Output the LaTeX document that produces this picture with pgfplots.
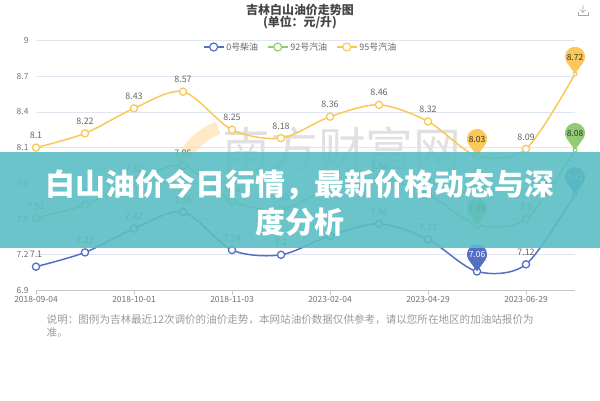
\documentclass[border=0pt]{standalone}
\usepackage{fontspec}
\setmainfont{Noto Sans CJK SC}
\usepackage{pgfplots}
\pgfplotsset{compat=1.18}
\usepackage{pgfplotstable}
\definecolor{cBlue}{HTML}{5470C6}
\definecolor{cGreen}{HTML}{91CC75}
\definecolor{cYellow}{HTML}{FAC858}
\definecolor{gridc}{HTML}{E0E6F1}
\definecolor{tickc}{HTML}{6E7079}
\definecolor{labc}{HTML}{666666}
\definecolor{titlec}{HTML}{464646}
\definecolor{notec}{HTML}{9A9A9A}
\definecolor{bannerc}{HTML}{5ABEC3}

\pgfdeclareplotmark{pin}{%
  \pgfpathmoveto{\pgfpointorigin}%
  \pgfpathlineto{\pgfpoint{-8.48bp}{11.7bp}}%
  \pgfpatharc{212}{-32}{10bp}%
  \pgfpathclose
  \pgfusepathqfill
}

\pgfplotstableread{
idx d0 d92 d95
0 7.10 7.51 8.10
1 7.22 7.62 8.22
2 7.42 7.82 8.43
3 7.56 7.95 8.57
4 7.24 7.65 8.25
5 7.20 7.58 8.18
6 7.36 7.76 8.36
7 7.46 7.84 8.46
8 7.33 7.71 8.32
9 7.06 7.45 8.03
10 7.12 7.50 8.09
11 7.71 8.08 8.72
}\oil

\begin{document}
\begin{tikzpicture}[x=1bp,y=1bp]
\useasboundingbox (0,0) rectangle (600,400);
% titles
\node[font=\bfseries\fontsize{12}{12}\selectfont, text=titlec] at (300,390.5) {吉林白山油价走势图};
\node[font=\bfseries\fontsize{12}{12}\selectfont, text=titlec] at (300,377.5) {(单位：元/升)};
% download icon
\draw[gray!70, line width=0.6bp] (578,388) -- (578,385) -- (588,385) -- (588,388);
\draw[gray!70, line width=0.6bp] (583,395) -- (583,387.5) (580,390.5) -- (583,387.5) -- (586,390.5);
% watermark
\draw[orange!80!yellow, opacity=0.22, line width=13bp] (218,272) arc[start angle=110, end angle=185, radius=62];
\node[font=\fontsize{48}{48}\selectfont, text=gray!45, opacity=0.55] at (342,251) {南方财富网};

\begin{axis}[
  at={(36bp,109.5bp)}, anchor=south west,
  scale only axis, width=539bp, height=250bp,
  xmin=0, xmax=11, ymin=6.9, ymax=9,
  axis x line*=bottom, axis y line*=left,
  x axis line style={draw=black!22, line width=0.8bp},
  y axis line style={draw=none},
  ytick={6.9,7.2,7.5,7.8,8.1,8.4,8.7,9},
  yticklabels={6.9,7.2,7.5,7.8,8.1,8.4,8.7,9},
  xtick={0,2,4,6,8,10},
  xticklabels={2018-09-04,2018-10-01,2018-11-03,2023-02-04,2023-04-29,2023-06-29},
  tick align=outside, major tick length=4bp,
  xtick style={draw=black!22, line width=0.8bp},
  ytick style={draw=none},
  ymajorgrids, grid style={draw=gridc, line width=0.8bp},
  ticklabel style={font=\fontsize{8.5}{8.5}\selectfont, text=tickc},
  xticklabel style={yshift=2bp},
  /pgf/number format/assume math mode=true,
  clip=false,
  legend style={at={(0.491,0.974)}, anchor=center, draw=none, fill=none,
    font=\fontsize{9}{9}\selectfont, text=labc,
    /tikz/every even column/.append style={column sep=7bp}},
  legend columns=-1,
  every node near coord/.append style={inner sep=0pt, anchor=south, yshift=8.5bp,
    font=\fontsize{9}{9}\selectfont, text=labc},
]
\addplot[cBlue, line width=1.5bp, smooth, tension=0.5, mark=none,
  legend image code/.code={\draw[cBlue, line width=1.2bp] (0bp,0bp) -- (20bp,0bp); \draw[cBlue, line width=1.2bp, fill=white] (10bp,0bp) circle (4bp);}]
  table[x=idx, y=d0]{\oil};
\addlegendentry{0号柴油}
\addplot[cGreen, line width=1.5bp, smooth, tension=0.5, mark=none,
  legend image code/.code={\draw[cGreen, line width=1.2bp] (0bp,0bp) -- (20bp,0bp); \draw[cGreen, line width=1.2bp, fill=white] (10bp,0bp) circle (4bp);}]
  table[x=idx, y=d92]{\oil};
\addlegendentry{92号汽油}
\addplot[cYellow, line width=1.5bp, smooth, tension=0.5, mark=none,
  legend image code/.code={\draw[cYellow, line width=1.2bp] (0bp,0bp) -- (20bp,0bp); \draw[cYellow, line width=1.2bp, fill=white] (10bp,0bp) circle (4bp);}]
  table[x=idx, y=d95]{\oil};
\addlegendentry{95号汽油}

% markers
\addplot[forget plot, only marks, mark=*, mark size=3.6bp, mark options={draw=cBlue, fill=white, line width=1.3bp}, skip coords between index={11}{12}] table[x=idx, y=d0]{\oil};
\addplot[forget plot, only marks, mark=*, mark size=3.6bp, mark options={draw=cGreen, fill=white, line width=1.3bp}, skip coords between index={11}{12}] table[x=idx, y=d92]{\oil};
\addplot[forget plot, only marks, mark=*, mark size=3.6bp, mark options={draw=cYellow, fill=white, line width=1.3bp}, skip coords between index={11}{12}] table[x=idx, y=d95]{\oil};
\addplot[forget plot, only marks, mark=*, mark size=2bp, mark options={draw=cBlue, fill=white, line width=1bp}, skip coords between index={0}{11}] table[x=idx, y=d0]{\oil};
\addplot[forget plot, only marks, mark=*, mark size=2bp, mark options={draw=cGreen, fill=white, line width=1bp}, skip coords between index={0}{11}] table[x=idx, y=d92]{\oil};
\addplot[forget plot, only marks, mark=*, mark size=2bp, mark options={draw=cYellow, fill=white, line width=1bp}, skip coords between index={0}{11}] table[x=idx, y=d95]{\oil};

% value labels
\addplot[forget plot, draw=none, mark=none, nodes near coords, point meta=y]
  coordinates {(0,7.1)(1,7.22)(2,7.42)(3,7.56)(4,7.24)(5,7.2)(6,7.36)(7,7.46)(8,7.33)(10,7.12)};
\addplot[forget plot, draw=none, mark=none, nodes near coords, point meta=y]
  coordinates {(0,7.51)(1,7.62)(2,7.82)(3,7.95)(4,7.65)(5,7.58)(6,7.76)(7,7.84)(8,7.71)(10,7.5)};
\addplot[forget plot, draw=none, mark=none, nodes near coords, point meta=y]
  coordinates {(0,8.1)(1,8.22)(2,8.43)(3,8.57)(4,8.25)(5,8.18)(6,8.36)(7,8.46)(8,8.32)(10,8.09)};

% pins (min / max)
\addplot[forget plot, only marks, mark=pin, color=cBlue, nodes near coords, point meta=y,
  every node near coord/.append style={yshift=5bp, text=white, font=\fontsize{8.5}{8.5}\selectfont}]
  coordinates {(9,7.06)(11,7.71)};
\addplot[forget plot, only marks, mark=pin, color=cGreen, nodes near coords, point meta=y,
  every node near coord/.append style={yshift=5bp, text=black!80, font=\fontsize{8.5}{8.5}\selectfont}]
  coordinates {(9,7.45)(11,8.08)};
\addplot[forget plot, only marks, mark=pin, color=cYellow, nodes near coords, point meta=y,
  every node near coord/.append style={yshift=5bp, text=black!80, font=\fontsize{8.5}{8.5}\selectfont}]
  coordinates {(9,8.03)(11,8.72)};
\end{axis}

% banner overlay
\fill[bannerc, fill opacity=0.9] (0,152) rectangle (600,248);
\node[text=white, font=\bfseries\fontsize{30}{39}\selectfont, align=center] at (300,197) {白山油价今日行情，最新价格动态与深\\度分析};

% note
\node[anchor=base west, inner sep=0pt, text=notec, font=\fontsize{10.6}{10.6}\selectfont] at (46.5,77) {说明：图例为吉林最近12次调价的油价走势，本网站油价数据仅供参考，请以您所在地区的加油站报价为};
\node[anchor=base west, inner sep=0pt, text=notec, font=\fontsize{10.6}{10.6}\selectfont] at (46.5,63.5) {准。};
\end{tikzpicture}
\end{document}
